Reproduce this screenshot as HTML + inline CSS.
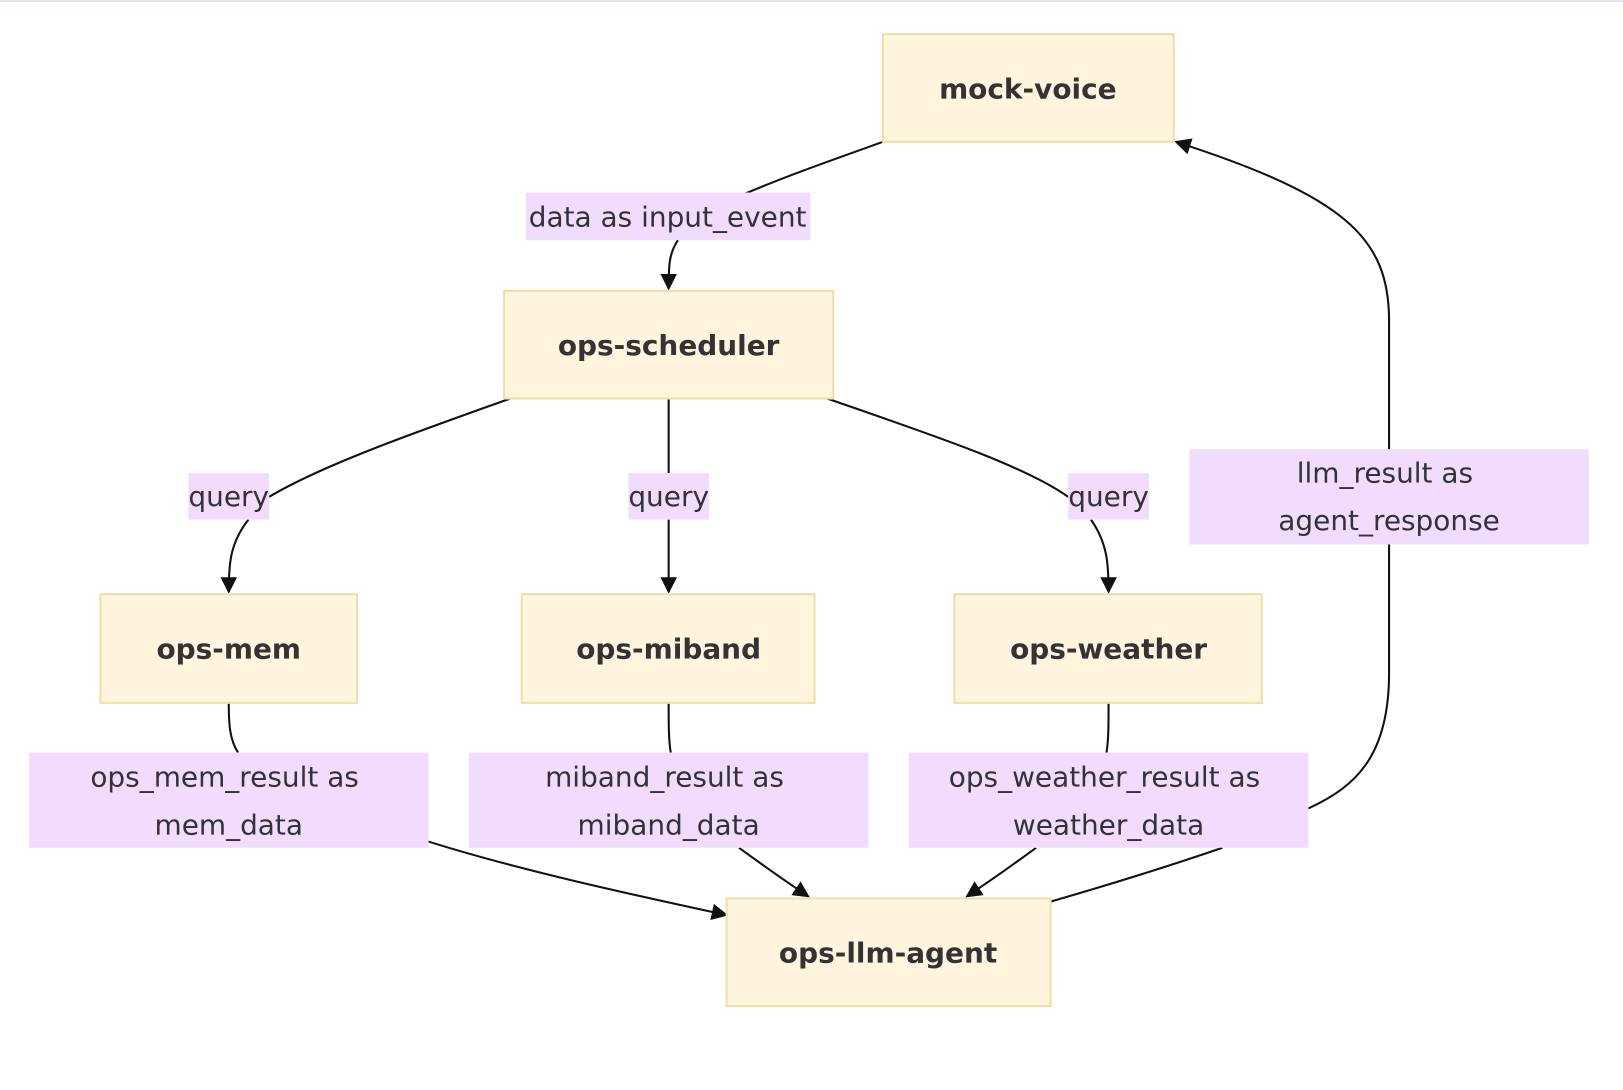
<!DOCTYPE html>
<html><head><meta charset="utf-8"><style>
html,body{margin:0;padding:0;background:#fff;width:1623px;height:1090px;overflow:hidden}
svg{display:block}
.n{fill:#fff4dd;stroke:#f0dfa8;stroke-width:2}
.l{fill:#f2dcfd}
.e{fill:none;stroke:#111;stroke-width:2}
.nt{font-family:"DejaVu Sans","Liberation Sans",sans-serif;font-weight:bold;font-size:27px;fill:#333;text-anchor:middle}
.lt{font-family:"DejaVu Sans","Liberation Sans",sans-serif;font-size:27px;fill:#333;text-anchor:middle}
</style></head><body>
<svg width="1623" height="1090" viewBox="0 0 1568 1053" preserveAspectRatio="none">
<defs><marker id="a" viewBox="0 0 10 10" refX="9" refY="5" markerWidth="8" markerHeight="8" orient="auto"><path d="M0,0L10,5L0,10z" fill="#111"/></marker></defs>
<rect x="0" y="0" width="1568" height="2" fill="#e3e1f2"/>
<path class="e" d="M853,137 C800,156 760,170 720,187"/>
<path class="e" d="M655,232 C646,245 646,258 646,279" marker-end="url(#a)"/>
<path class="e" d="M493,385 C400,418 310,450 260,480"/>
<path class="e" d="M240,502 C222,525 221,545 221,572" marker-end="url(#a)"/>
<path class="e" d="M646,385 L646,457"/>
<path class="e" d="M646,502 L646,572" marker-end="url(#a)"/>
<path class="e" d="M799,385 C900,420 990,450 1032,480"/>
<path class="e" d="M1054,502 C1070,525 1071,545 1071,572" marker-end="url(#a)"/>
<path class="e" d="M1342,434 L1342,310 C1342,230 1300,190 1136,137" marker-end="url(#a)"/>
<path class="e" d="M1342,526 L1342,650 C1342,730 1310,760 1264,781"/>
<path class="e" d="M1181,819 C1120,840 1060,858 1015,871"/>
<path class="e" d="M221,679 C221,700 222,715 230,727"/>
<path class="e" d="M414,813 C500,840 600,862 702,884" marker-end="url(#a)"/>
<path class="e" d="M646,679 C646,700 646,715 648,727"/>
<path class="e" d="M714,819 C740,838 760,852 781,866" marker-end="url(#a)"/>
<path class="e" d="M1071,679 C1071,700 1071,715 1069,727"/>
<path class="e" d="M1001,819 C975,838 955,852 934,866" marker-end="url(#a)"/>
<rect class="n" x="853" y="33" width="281" height="104"/><text class="nt" x="993" y="95">mock-voice</text>
<rect class="n" x="487" y="281" width="318" height="104"/><text class="nt" x="646" y="343">ops-scheduler</text>
<rect class="n" x="97" y="574" width="248" height="105"/><text class="nt" x="221" y="636">ops-mem</text>
<rect class="n" x="504" y="574" width="283" height="105"/><text class="nt" x="646" y="636">ops-miband</text>
<rect class="n" x="922" y="574" width="297" height="105"/><text class="nt" x="1071" y="636">ops-weather</text>
<rect class="n" x="702" y="868" width="313" height="104"/><text class="nt" x="858" y="930">ops-llm-agent</text>
<rect class="l" x="508" y="186" width="275" height="46"/><text class="lt" x="645" y="219">data as input_event</text>
<rect class="l" x="182" y="457" width="78" height="45"/><text class="lt" x="221" y="489">query</text>
<rect class="l" x="607" y="457" width="78" height="45"/><text class="lt" x="646" y="489">query</text>
<rect class="l" x="1032" y="457" width="78" height="45"/><text class="lt" x="1071" y="489">query</text>
<rect class="l" x="1149" y="434" width="386" height="92"/><text class="lt" x="1338" y="466">llm_result as</text><text class="lt" x="1342" y="512">agent_response</text>
<rect class="l" x="28" y="727" width="386" height="92"/><text class="lt" x="217" y="760">ops_mem_result as</text><text class="lt" x="221" y="806">mem_data</text>
<rect class="l" x="453" y="727" width="386" height="92"/><text class="lt" x="642" y="760">miband_result as</text><text class="lt" x="646" y="806">miband_data</text>
<rect class="l" x="878" y="727" width="386" height="92"/><text class="lt" x="1067" y="760">ops_weather_result as</text><text class="lt" x="1071" y="806">weather_data</text>
</svg>
</body></html>
